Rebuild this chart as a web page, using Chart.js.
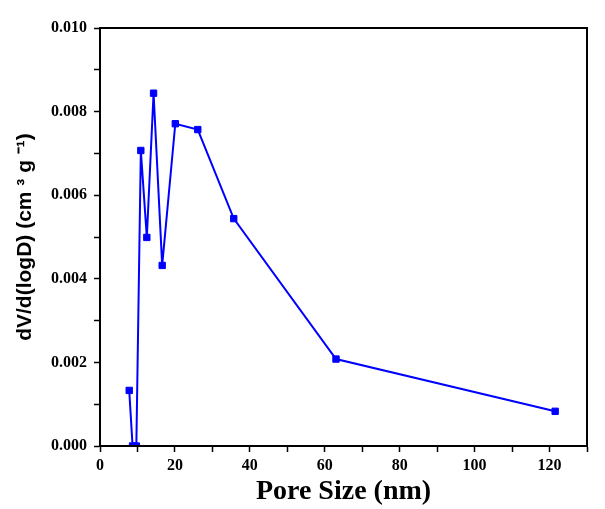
<!DOCTYPE html>
<html>
<head>
<meta charset="utf-8">
<script src="https://cdn.jsdelivr.net/npm/chart.js@4"></script>
<style>
  body { margin: 0; background: #fff; }
</style>
</head>
<body>
<canvas id="myChart" width="605" height="509"></canvas>
<script>
// pore size distribution
const poreSize = [7.8, 8.7, 9.7, 10.9, 12.5, 14.3, 16.6, 20.1, 26.1, 35.7, 63.0, 121.5];
const dVdlogD = [0.00133, 0.0, 0.0, 0.00707, 0.00499, 0.00844, 0.00432, 0.00771, 0.00757, 0.00544, 0.00208, 0.00083];

const xTicks = [0, 20, 40, 60, 80, 100, 120];
const yTicks = ['0.000', '0.002', '0.004', '0.006', '0.008', '0.010'];

const points = poreSize.map((x, i) => ({ x: x, y: dVdlogD[i] }));

// box around the plot area
const frame = {
    id: 'frame',
    afterDraw(chart) {
        const a = chart.chartArea;
        const ctx = chart.ctx;
        ctx.save();
        ctx.strokeStyle = '#000';
        ctx.lineWidth = 2;
        ctx.strokeRect(a.left, a.top, a.right - a.left, a.bottom - a.top);
        ctx.restore();
    }
};

const tickFont = { family: '"Liberation Serif", "Times New Roman", serif', size: 16, weight: 'bold' };

const ctx = document.getElementById('myChart').getContext('2d');
const myChart = new Chart(ctx, {
    type: 'scatter',
    data: {
        datasets: [{
            label: 'PSD',
            data: points,
            showLine: true,
            borderColor: '#0000ff',
            backgroundColor: '#0000ff',
            borderWidth: 2,
            pointStyle: 'rect',
            pointRadius: 4.5,
            pointBorderWidth: 1
        }]
    },
    options: {
        responsive: false,
        animation: false,
        layout: { padding: { top: 28, right: 18, left: 0, bottom: 0 } },
        plugins: {
            legend: { display: false },
            tooltip: { enabled: false }
        },
        scales: {
            x: {
                type: 'linear',
                min: 0,
                max: 130,
                afterFit: function(scale) { scale.height = 63; },
                border: { display: true, color: '#000', width: 2 },
                grid: { drawOnChartArea: false, color: '#000', tickLength: 6, tickWidth: 1.5 },
                ticks: {
                    stepSize: 10,
                    color: '#000',
                    padding: 4,
                    maxRotation: 0,
                    font: tickFont,
                    callback: function(v) {
                        return xTicks.includes(v) ? String(v) : '';
                    }
                },
                title: {
                    display: true,
                    text: 'Pore Size (nm)',
                    color: '#000',
                    font: { family: '"Liberation Serif", "Times New Roman", serif', size: 28, weight: 'bold' },
                    padding: { top: 0, bottom: 0 }
                }
            },
            y: {
                min: 0,
                max: 0.01,
                afterFit: function(scale) { scale.width = 100; },
                border: { display: true, color: '#000', width: 2 },
                grid: { drawOnChartArea: false, color: '#000', tickLength: 6, tickWidth: 1.5 },
                ticks: {
                    stepSize: 0.001,
                    color: '#000',
                    padding: 7,
                    font: tickFont,
                    callback: function(v) {
                        const s = v.toFixed(3);
                        return yTicks.includes(s) ? s : '';
                    }
                },
                title: {
                    display: true,
                    text: 'dV/d(logD) (cm \u00B3 g \u207B\u00B9)',
                    color: '#000',
                    font: { family: '"Liberation Sans", Arial, sans-serif', size: 21, weight: 'bold' },
                    padding: { top: 13, bottom: 0 }
                }
            }
        }
    },
    plugins: [frame]
});
</script>
</body>
</html>
